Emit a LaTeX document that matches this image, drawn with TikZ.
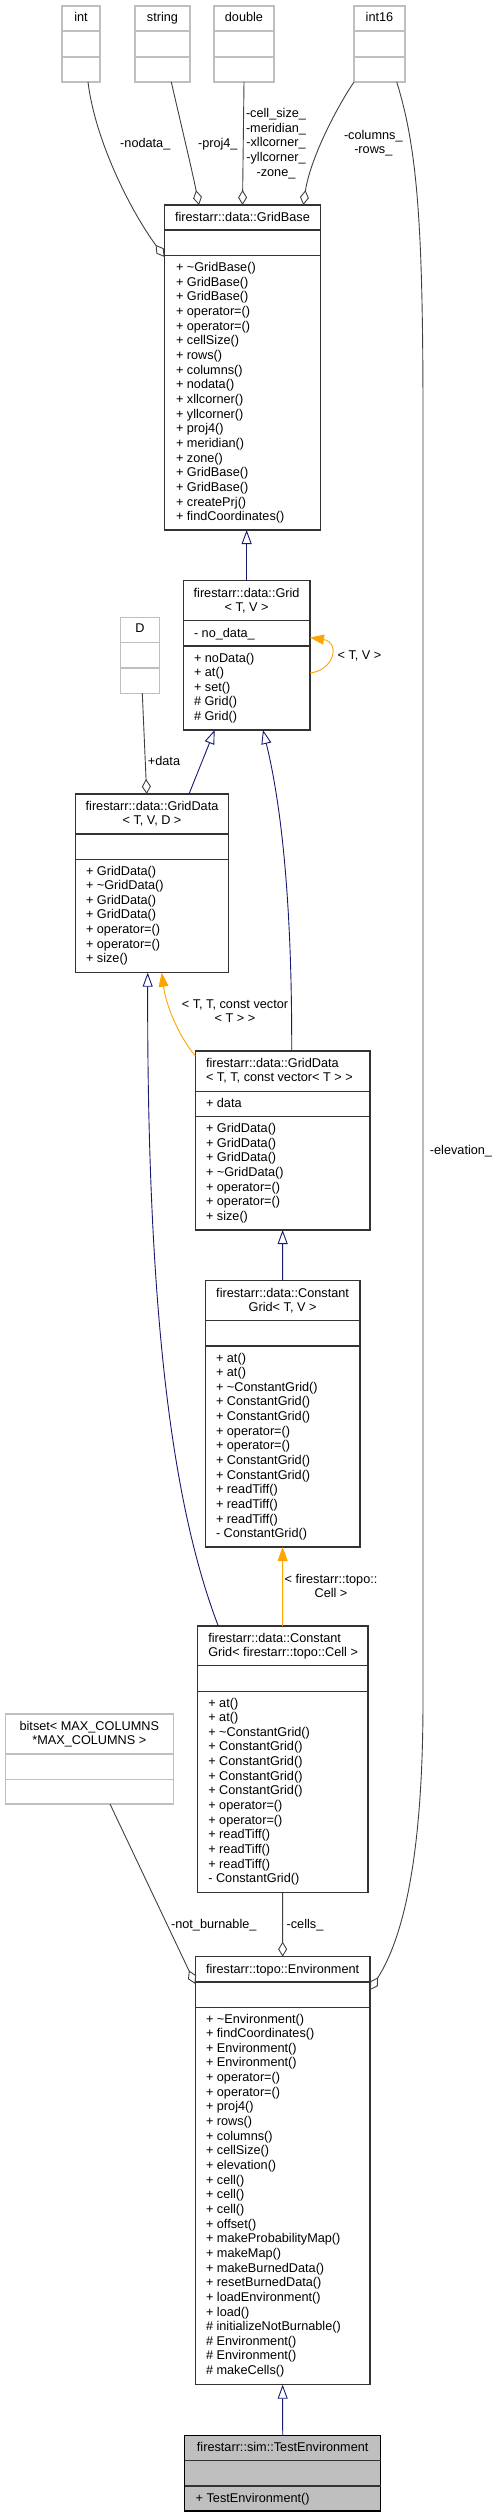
\documentclass[tikz,border=0pt]{standalone}
\usepackage{fontspec}
\setmainfont{Liberation Sans}
\usetikzlibrary{arrows.meta,calc}
\definecolor{navyc}{HTML}{191970}
\definecolor{orangec}{HTML}{FFA500}
\definecolor{aggc}{HTML}{404040}
\definecolor{extc}{HTML}{BFBFBF}
\definecolor{framec}{HTML}{333333}
\newcommand\fsz{\fontsize{12.7bp}{14.65bp}\selectfont}
\newcommand\tl{\textasciitilde{}}
\newcommand\fl{\rule{0pt}{10bp}}
\tikzset{
  txt/.style={font=\fsz, inner sep=0pt, outer sep=0pt, text=black},
  lst/.style={txt, align=left, anchor=north west, yshift=10bp},
  ttl/.style={txt, align=center, anchor=north, yshift=10bp},
  lbl/.style={txt, align=center, anchor=north, yshift=10bp},
  frame/.style={draw=framec, line width=1.2bp, inner sep=0pt, outer sep=0pt, anchor=north west},
  extframe/.style={draw=extc, line width=1.2bp, inner sep=0pt, outer sep=0pt, anchor=north west},
  inh/.style={draw=navyc, line width=0.9bp, -{Triangle[open, length=14bp, width=10bp]}},
  tmpl/.style={draw=orangec, line width=0.9bp, -{Triangle[length=14bp, width=10bp]}},
  agg/.style={draw=aggc, line width=0.9bp, -{Diamond[open, length=15bp, width=9bp]}},
}
% name, x1, y1, x2, y2, d1, d2, style, divider colour
\newcommand\umlbox[9]{%
  \node[#8, minimum width={#4bp-#2bp}, minimum height={#5bp-#3bp}] (#1) at (#2,#3) {};
  \draw[draw=#9, line width=1.2bp] (#2,#6) -- (#4,#6);
  \draw[draw=#9, line width=1.2bp] (#2,#7) -- (#4,#7);
}
\begin{document}
\begin{tikzpicture}[x=1bp,y=-1bp]
\useasboundingbox (0,0) rectangle (495,2517);
% external type boxes
\umlbox{int}{62}{6}{100}{82}{31}{57}{extframe}{extc}
\node[ttl] (int-t) at (81,21.3) {\fl int};
\umlbox{string}{135}{6}{190}{82}{31}{57}{extframe}{extc}
\node[ttl] (string-t) at (162.5,21.3) {\fl string};
\umlbox{double}{214}{6}{274}{82}{31}{57}{extframe}{extc}
\node[ttl] (double-t) at (244,21.3) {\fl double};
\umlbox{int16}{354}{6}{405}{82}{31}{57}{extframe}{extc}
\node[ttl] (int16-t) at (379.5,21.3) {\fl int16};
\umlbox{D}{120.7}{617.3}{159.3}{693.3}{642.7}{668}{extframe}{extc}
\node[ttl] (D-t) at (140,632.6) {\fl D};
\umlbox{bitset}{5.3}{1714}{173.3}{1804}{1754}{1779.3}{extframe}{extc}
\node[ttl] (bitset-t) at (89.3,1730) {\fl bitset< MAX\_COLUMNS\\*MAX\_COLUMNS >};

% GridBase
\umlbox{gridbase}{164.5}{205}{320.5}{530}{230}{255.3}{frame}{framec}
\node[ttl] (gridbase-t) at (242.5,221.8) {\fl firestarr::data::GridBase};
\node[lst] (gridbase-m) at (176,271.6) {\fl + \tl GridBase()\\+ GridBase()\\+ GridBase()\\+ operator=()\\+ operator=()\\+ cellSize()\\+ rows()\\+ columns()\\+ nodata()\\+ xllcorner()\\+ yllcorner()\\+ proj4()\\+ meridian()\\+ zone()\\+ GridBase()\\+ GridBase()\\+ createPrj()\\+ findCoordinates()};

% Grid
\umlbox{grid}{183.3}{580.7}{310}{730}{620.7}{646}{frame}{framec}
\node[ttl] (grid-t) at (246.6,597) {\fl firestarr::data::Grid\\< T, V >};
\node[lst] (grid-a) at (194,637) {\fl - no\_data\_};
\node[lst] (grid-m) at (194,662) {\fl + noData()\\+ at()\\+ set()\\\# Grid()\\\# Grid()};

% GridData<T,V,D>
\umlbox{gdtvd}{75.3}{794}{228.7}{972.7}{834}{859.3}{frame}{framec}
\node[ttl] (gdtvd-t) at (152,810) {\fl firestarr::data::GridData\\< T, V, D >};
\node[lst] (gdtvd-m) at (86,875) {\fl + GridData()\\+ \tl GridData()\\+ GridData()\\+ GridData()\\+ operator=()\\+ operator=()\\+ size()};

% GridData<T,T,const vector<T>>
\umlbox{gdtt}{195.3}{1051}{370}{1230}{1091.3}{1116.7}{frame}{framec}
\node[lst] (gdtt-t) at (206,1067) {\fl firestarr::data::GridData\\< T, T, const vector< T > >};
\node[lst] (gdtt-a) at (206,1107) {\fl + data};
\node[lst] (gdtt-m) at (206,1132.6) {\fl + GridData()\\+ GridData()\\+ GridData()\\+ \tl GridData()\\+ operator=()\\+ operator=()\\+ size()};

% ConstantGrid<T,V>
\umlbox{cgtv}{205.3}{1280.7}{360}{1547}{1320.3}{1346}{frame}{framec}
\node[ttl] (cgtv-t) at (282.6,1297) {\fl firestarr::data::Constant\\Grid< T, V >};
\node[lst] (cgtv-m) at (216,1362) {\fl + at()\\+ at()\\+ \tl ConstantGrid()\\+ ConstantGrid()\\+ ConstantGrid()\\+ operator=()\\+ operator=()\\+ ConstantGrid()\\+ ConstantGrid()\\+ readTiff()\\+ readTiff()\\+ readTiff()\\- ConstantGrid()};

% ConstantGrid<Cell>
\umlbox{cgcell}{197.3}{1626}{368}{1892.3}{1665.7}{1691.3}{frame}{framec}
\node[lst] (cgcell-t) at (208.3,1642) {\fl firestarr::data::Constant\\Grid< firestarr::topo::Cell >};
\node[lst] (cgcell-m) at (208.3,1707) {\fl + at()\\+ at()\\+ \tl ConstantGrid()\\+ ConstantGrid()\\+ ConstantGrid()\\+ ConstantGrid()\\+ ConstantGrid()\\+ operator=()\\+ operator=()\\+ readTiff()\\+ readTiff()\\+ readTiff()\\- ConstantGrid()};

% Environment
\umlbox{env}{195.3}{1956.7}{370}{2384.7}{1982}{2007.3}{frame}{framec}
\node[ttl] (env-t) at (282.6,1973) {\fl firestarr::topo::Environment};
\node[lst] (env-m) at (206,2023) {\fl + \tl Environment()\\+ findCoordinates()\\+ Environment()\\+ Environment()\\+ operator=()\\+ operator=()\\+ proj4()\\+ rows()\\+ columns()\\+ cellSize()\\+ elevation()\\+ cell()\\+ cell()\\+ cell()\\+ offset()\\+ makeProbabilityMap()\\+ makeMap()\\+ makeBurnedData()\\+ resetBurnedData()\\+ loadEnvironment()\\+ load()\\\# initializeNotBurnable()\\\# Environment()\\\# Environment()\\\# makeCells()};

% TestEnvironment
\node[frame, fill=extc, draw=black, minimum width={196bp}, minimum height={75.7bp}] (testenv) at (184.7,2435.3) {};
\draw[draw=framec, line width=1.2bp] (184.7,2460.3) -- (380.7,2460.3);
\draw[draw=framec, line width=1.2bp] (184.7,2486) -- (380.7,2486);
\node[ttl] (testenv-t) at (282.7,2451) {\fl firestarr::sim::TestEnvironment};
\node[lst] (testenv-m) at (195.7,2502) {\fl + TestEnvironment()};

% aggregation edges
\draw[agg] ([xshift=26bp]int.south west) .. controls (95,140) and (130,210) .. ([yshift=-52bp]gridbase.north west);
\draw[agg] ([xshift=36.3bp]string.south west) .. controls (180,120) and (192,170) .. ([xshift=34.5bp]gridbase.north west);
\draw[agg] (double.south) -- (gridbase.north);
\draw[agg] (int16.south west) .. controls (335,110) and (310,160) .. ([xshift=138.8bp]gridbase.north west);
\draw[agg] ([xshift=42.7bp]int16.south west) .. controls (418,150) and (423,230) .. (423,420) -- (423,1700) .. controls (423,1850) and (405,1935) .. ([yshift=-33.3bp]env.north east);
\draw[agg] ([xshift=21.6bp]D.south west) -- ([xshift=71.4bp]gdtvd.north west);
\draw[agg] ([xshift=104.7bp]bitset.south west) -- ([yshift=-27.3bp]env.north west);
\draw[agg] (cgcell.south) -- (env.north);

% inheritance edges
\draw[inh] (grid.north) -- (grid.north |- gridbase.south);
\draw[inh] ([xshift=113.7bp]gdtvd.north west) -- ([xshift=31.4bp]grid.south west);
\draw[inh] ([xshift=96.4bp]gdtt.north west) .. controls (292,930) and (285,820) .. ([xshift=79.7bp]grid.south west);
\draw[inh] ([xshift=21bp]cgcell.north west) .. controls (170,1500) and (147,1300) .. ([xshift=72.4bp]gdtvd.south west);
\draw[inh] (cgtv.north) -- (gdtt.south);
\draw[inh] (testenv.north) -- (env.south);

% template instance edges
\coordinate (loopend) at ([yshift=-56.8bp]grid.north east);
\draw[tmpl] ([yshift=-92.3bp]grid.north east) .. controls (335,670) and (340,642) .. (loopend);
\draw[tmpl] ([yshift=-5bp]gdtt.north west) .. controls (178,1035) and (166,1005) .. ([xshift=86.4bp]gdtvd.south west);
\draw[tmpl] (cgcell.north) -- (cgtv.south);

% edge labels
\node[lbl] (l-nodata) at (145.3,147.6) {\fl -nodata\_};
\node[lbl] (l-proj4) at (217.8,147.6) {\fl -proj4\_};
\node[lbl] (l-double) at (276,117.6) {\fl -cell\_size\_\\-meridian\_\\-xllcorner\_\\-yllcorner\_\\-zone\_};
\node[lbl] (l-colrow) at (373.3,139.3) {\fl -columns\_\\-rows\_};
\node[lbl] (l-tv) at (359.5,659.3) {\fl < T, V >};
\node[lbl] (l-data) at (164,765) {\fl +data};
\node[lbl] (l-ttvec) at (235,1008.3) {\fl < T, T, const vector\\< T > >};
\node[lbl] (l-topo) at (331,1583) {\fl < firestarr::topo::\\Cell >};
\node[lbl] (l-cells) at (305,1928.3) {\fl -cells\_};
\node[lbl] (l-notburn) at (213.8,1928.3) {\fl -not\_burnable\_};
\node[lbl] (l-elev) at (461,1154) {\fl -elevation\_};
\end{tikzpicture}
\end{document}
